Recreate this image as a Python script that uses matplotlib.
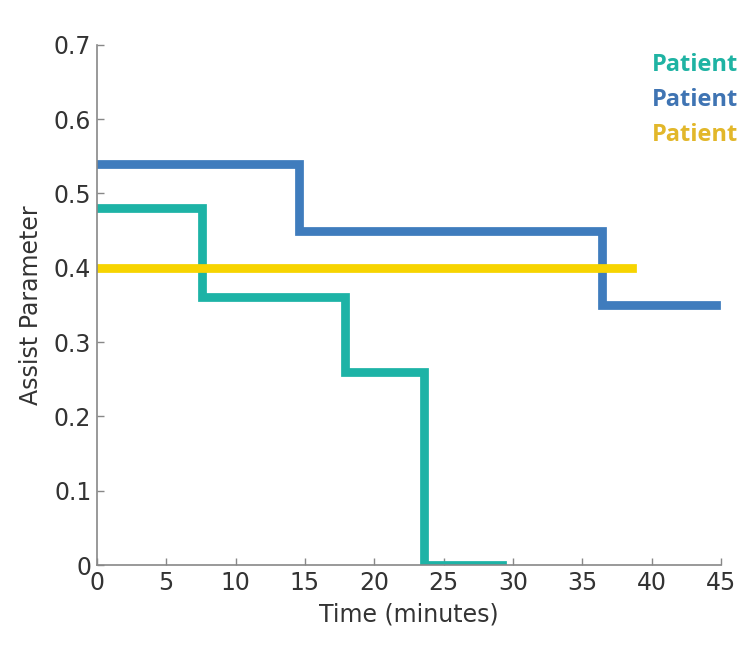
import matplotlib.pyplot as plt

# Step data: change times (minutes) and assist level after each change
p1_time = [0, 7.6, 17.9, 23.6, 29.2]
p1_assist = [0.48, 0.36, 0.26, 0.0, 0.0]

p2_time = [0, 14.6, 36.4, 44.6]
p2_assist = [0.54, 0.45, 0.35, 0.35]

p3_time = [0, 38.6]
p3_assist = [0.40, 0.40]

# legend names are cut at the figure edge in the source, only "Patient" shows
labels = ["Patient", "Patient", "Patient"]
colors = ["#1db3a6", "#3f7cbd", "#f7d400"]
text_colors = ["#1fb3a3", "#3f74b3", "#e2b72a"]

x_ticks = [0, 5, 10, 15, 20, 25, 30, 35, 40, 45]
y_ticks = [0, 0.1, 0.2, 0.3, 0.4, 0.5, 0.6, 0.7]
y_ticklabels = ["0", "0.1", "0.2", "0.3", "0.4", "0.5", "0.6", "0.7"]

fig = plt.figure(figsize=(7.39, 6.48), dpi=100)
ax = fig.add_axes([0.131, 0.128, 0.845, 0.803])

ax.step(p2_time, p2_assist, where='post', color=colors[1], linewidth=6.3, solid_joinstyle='miter')
ax.step(p1_time, p1_assist, where='post', color=colors[0], linewidth=6.3, solid_joinstyle='miter')
ax.step(p3_time, p3_assist, where='post', color=colors[2], linewidth=6.3)

ax.set_xlim(0, 45)
ax.set_ylim(0, 0.7)
ax.set_xticks(x_ticks)
ax.set_yticks(y_ticks)
ax.set_yticklabels(y_ticklabels)
ax.tick_params(direction='in', length=5, width=1, color='#888888',
               labelsize=17, labelcolor='#333333', pad=4)

for side in ['top', 'right']:
    ax.spines[side].set_visible(False)
for side in ['left', 'bottom']:
    ax.spines[side].set_color('#888888')
    ax.spines[side].set_linewidth(1.2)

ax.set_xlabel("Time (minutes)", fontsize=17, color='#333333', labelpad=6)
ax.set_ylabel("Assist Parameter", fontsize=17, color='#333333', labelpad=8)

# Legend text at the right edge
for i, lab in enumerate(labels):
    fig.text(0.882, 0.900 - i * 0.054, lab, color=text_colors[i],
             fontsize=17, fontweight='bold', va='center', ha='left',
             family=['Open Sans', 'DejaVu Sans'])

fig.savefig("out.png", dpi=100)
